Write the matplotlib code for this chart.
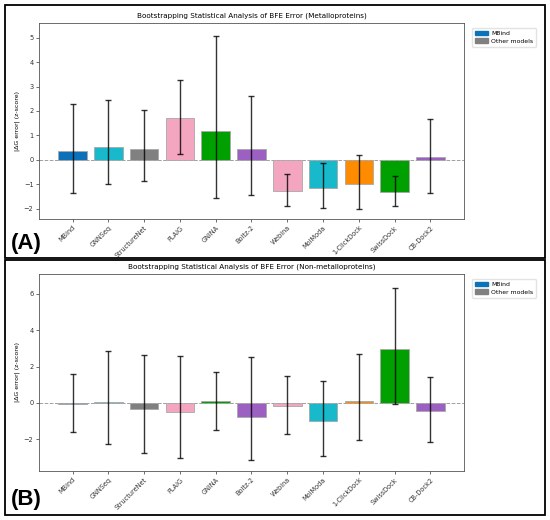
import numpy as np
import matplotlib
matplotlib.use("Agg")
import matplotlib.pyplot as plt
from matplotlib.patches import Rectangle, Patch

models = ['MBind', 'GNNSeq', 'StructureNet', 'PLAIG', 'GNINA', 'Boltz-2',
          'Webina', 'MolModa', '1-ClickDock', 'SwissDock', 'CB-Dock2']
bar_colors = ['#0b72b9', '#17b9cb', '#808080', '#f4a6c1', '#00a000', '#9c5fc2',
              '#f4a6c1', '#17b9cb', '#ff8c00', '#00a000', '#9c5fc2']

# metalloproteins: mean z-score and bootstrap CI bounds
metal_mean = [0.37, 0.53, 0.45, 1.70, 1.19, 0.46, -1.28, -1.17, -1.00, -1.31, 0.11]
metal_lo = [-1.34, -1.00, -0.87, 0.25, -1.58, -1.45, -1.88, -1.96, -2.02, -1.87, -1.36]
metal_hi = [2.29, 2.43, 2.03, 3.26, 5.06, 2.62, -0.59, -0.14, 0.18, -0.67, 1.66]

# non-metalloproteins
non_mean = [-0.04, 0.03, -0.31, -0.50, 0.09, -0.75, -0.15, -0.99, 0.13, 2.97, -0.42]
non_lo = [-1.61, -2.28, -2.75, -3.06, -1.50, -3.17, -1.71, -2.94, -2.07, -0.07, -2.18]
non_hi = [1.58, 2.84, 2.66, 2.60, 1.72, 2.55, 1.49, 1.19, 2.70, 6.31, 1.41]

titles = ['Bootstrapping Statistical Analysis of BFE Error (Metalloproteins)',
          'Bootstrapping Statistical Analysis of BFE Error (Non-metalloproteins)']
panel_labels = ['(A)', '(B)']

W, H = 550, 520
fig = plt.figure(figsize=(5.5, 5.2), dpi=100)

def panel(rect, mean, lo, hi, title, ylim, yticks, label, box, label_xy):
    ax = fig.add_axes(rect)
    x = np.arange(len(models))
    mean = np.array(mean)
    yerr = [mean - np.array(lo), np.array(hi) - mean]
    ax.bar(x, mean, width=0.8, color=bar_colors, edgecolor='#a8a8a8', linewidth=0.6, zorder=2)
    ax.errorbar(x, mean, yerr=yerr, fmt='none', ecolor='black', alpha=0.8,
                elinewidth=1.0, capsize=2, capthick=1.0, zorder=3)
    ax.axhline(0, color='#a0a0a0', linestyle='--', linewidth=0.7, zorder=1)
    ax.set_ylim(ylim)
    ax.set_yticks(yticks)
    ax.set_xticks(x)
    ax.set_xticklabels(models, rotation=45, ha='right', rotation_mode='anchor', fontsize=4.7)
    ax.tick_params(axis='y', labelsize=4.8)
    ax.tick_params(length=2, width=0.5, pad=2, colors='#333333')
    ax.set_ylabel('|ΔG error| (z-score)', fontsize=4.5, labelpad=3)
    ax.set_title(title, fontsize=5.2, pad=4)
    for s in ax.spines.values():
        s.set_linewidth(0.6)
        s.set_color('#555555')
    handles = [Patch(color='#0b72b9', label='MBind'), Patch(color='#808080', label='Other models')]
    ax.legend(handles=handles, loc='upper left', bbox_to_anchor=(1.012, 0.99), fontsize=4.4,
              frameon=True, handlelength=2.1, handleheight=0.8, borderpad=0.45,
              labelspacing=0.35, handletextpad=0.6, edgecolor='#dddddd', fancybox=True)
    fig.add_artist(Rectangle((box[0] / W, 1 - box[3] / H), (box[2] - box[0]) / W,
                             (box[3] - box[1]) / H, transform=fig.transFigure,
                             fill=False, edgecolor='black', linewidth=1.3))
    fig.text(label_xy[0] / W, 1 - label_xy[1] / H, label, fontsize=16, fontweight='bold',
             family='Liberation Sans', ha='left', va='center')
    return ax

panel([39 / W, 1 - 219 / H, 425 / W, 196 / H], metal_mean, metal_lo, metal_hi, titles[0],
      (-2.42, 5.6), [-2, -1, 0, 1, 2, 3, 4, 5], panel_labels[0], (5, 5, 545, 258), (11, 243))
panel([39 / W, 1 - 471 / H, 425 / W, 197 / H], non_mean, non_lo, non_hi, titles[1],
      (-3.75, 7.1), [-2, 0, 2, 4, 6], panel_labels[1], (5, 260, 545, 515), (11, 499))

fig.savefig('out.png', dpi=100)
